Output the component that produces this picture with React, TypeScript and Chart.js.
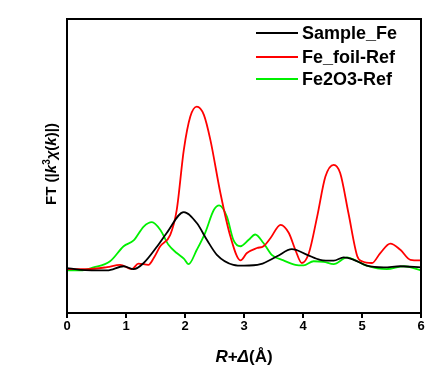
import React, { useEffect, useRef } from "react";
import { Chart, registerables } from "chart.js";

Chart.register(...registerables);

const sampleX = [0, 0.23, 0.68, 0.96, 1.13, 1.3, 1.53, 1.69, 1.98, 2.2, 2.37, 2.54, 2.82, 3.0, 3.28, 3.56, 3.81, 4.07, 4.29, 4.52, 4.69, 4.86, 5.08, 5.37, 5.65, 6];
const sampleY = [1.53, 1.47, 1.45, 1.59, 1.49, 1.7, 2.27, 2.72, 3.43, 3.06, 2.49, 1.98, 1.64, 1.61, 1.66, 1.93, 2.17, 1.98, 1.81, 1.78, 1.89, 1.81, 1.61, 1.55, 1.59, 1.55];

const foilX = [0, 0.34, 0.68, 0.9, 1.1, 1.21, 1.38, 1.47, 1.58, 1.75, 1.86, 1.98, 2.09, 2.2, 2.32, 2.43, 2.6, 2.77, 2.94, 3.05, 3.22, 3.33, 3.45, 3.62, 3.76, 3.87, 3.98, 4.1, 4.24, 4.38, 4.52, 4.63, 4.77, 4.92, 5.0, 5.17, 5.31, 5.48, 5.65, 5.82, 6];
const foilY = [1.49, 1.49, 1.56, 1.64, 1.49, 1.68, 1.64, 1.87, 2.27, 2.66, 3.51, 5.55, 6.68, 7.02, 6.74, 5.89, 4.08, 2.6, 1.79, 2.04, 2.21, 2.27, 2.55, 3.0, 2.72, 2.15, 1.7, 2.04, 3.28, 4.64, 5.04, 4.76, 3.4, 1.93, 1.76, 1.7, 2.04, 2.36, 2.15, 1.81, 1.79];

const oxideX = [0, 0.23, 0.45, 0.73, 0.96, 1.13, 1.3, 1.44, 1.58, 1.72, 1.86, 1.98, 2.06, 2.2, 2.34, 2.49, 2.58, 2.71, 2.82, 2.94, 3.08, 3.19, 3.33, 3.47, 3.67, 3.87, 4.01, 4.18, 4.35, 4.52, 4.75, 4.92, 5.08, 5.42, 5.71, 6];
const oxideY = [1.45, 1.45, 1.55, 1.76, 2.27, 2.47, 2.94, 3.09, 2.83, 2.32, 2.04, 1.85, 1.66, 2.15, 2.72, 3.51, 3.66, 3.28, 2.49, 2.27, 2.49, 2.67, 2.38, 1.98, 1.79, 1.64, 1.62, 1.76, 1.74, 1.66, 1.89, 1.76, 1.61, 1.49, 1.59, 1.45];

const seriesLabels = ["Sample_Fe", "Fe_foil-Ref", "Fe2O3-Ref"];
const seriesColors = ["#000000", "#ff0000", "#00f000"];
const xTickValues = [0, 1, 2, 3, 4, 5, 6];

const toPoints = (xs: number[], ys: number[]) => xs.map((x, i) => ({ x, y: ys[i] }));

const FONT = "'Liberation Sans', Arial, sans-serif";

const decorPlugin = {
  id: "decor",
  afterDraw(chart: any) {
    const ctx = chart.ctx;
    const a = chart.chartArea;
    ctx.save();
    ctx.strokeStyle = "#000";
    ctx.lineWidth = 2;
    ctx.strokeRect(a.left, a.top, a.right - a.left, a.bottom - a.top);

    const ds = chart.data.datasets;
    ctx.font = `bold 18px ${FONT}`;
    ctx.textBaseline = "middle";
    ctx.textAlign = "left";
    const rows = [33, 57, 79];
    ds.forEach((d: any, i: number) => {
      const y = rows[i];
      ctx.strokeStyle = d.borderColor;
      ctx.lineWidth = 2;
      ctx.beginPath();
      ctx.moveTo(256, y);
      ctx.lineTo(298, y);
      ctx.stroke();
      ctx.fillStyle = "#000";
      ctx.fillText(d.label, 302, y + 1);
    });

    const xParts: [string, string][] = [
      ["R", `bold italic 17px ${FONT}`],
      ["+", `bold 17px ${FONT}`],
      ["Δ", `bold italic 17px ${FONT}`],
      ["(Å)", `bold 17px ${FONT}`],
    ];
    let total = 0;
    xParts.forEach(([t, f]) => { ctx.font = f; total += ctx.measureText(t).width; });
    let cx = (a.left + a.right) / 2 - total / 2;
    ctx.fillStyle = "#000";
    ctx.textBaseline = "alphabetic";
    xParts.forEach(([t, f]) => { ctx.font = f; ctx.fillText(t, cx, 362); cx += ctx.measureText(t).width; });

    const yParts: [string, string, number][] = [
      ["FT (|", `bold 15px ${FONT}`, 0],
      ["k", `bold italic 15px ${FONT}`, 0],
      ["3", `bold 10px ${FONT}`, -6],
      ["χ", `bold italic 15px ${FONT}`, 0],
      ["(", `bold 15px ${FONT}`, 0],
      ["k", `bold italic 15px ${FONT}`, 0],
      [")|)", `bold 15px ${FONT}`, 0],
    ];
    let tot2 = 0;
    yParts.forEach(([t, f]) => { ctx.font = f; tot2 += ctx.measureText(t).width; });
    ctx.translate(56, (a.top + a.bottom) / 2 - 2);
    ctx.rotate(-Math.PI / 2);
    let px = -tot2 / 2;
    yParts.forEach(([t, f, dy]) => { ctx.font = f; ctx.fillText(t, px, dy); px += ctx.measureText(t).width; });
    ctx.restore();
  },
};

export default function App() {
  const ref = useRef<HTMLCanvasElement>(null);
  useEffect(() => {
    document.body.style.margin = "0";
    const data = [toPoints(sampleX, sampleY), toPoints(foilX, foilY), toPoints(oxideX, oxideY)];
    const chart = new Chart(ref.current!, {
      type: "line",
      data: {
        datasets: data.map((d, i) => ({
          label: seriesLabels[i],
          data: d,
          borderColor: seriesColors[i],
          backgroundColor: seriesColors[i],
          borderWidth: 1.8,
          pointRadius: 0,
          tension: 0.4,
          cubicInterpolationMode: "monotone" as const,
          fill: false,
        })),
      },
      options: {
        responsive: false,
        animation: false,
        layout: { padding: { left: 0, right: 24, top: 19, bottom: 0 } },
        plugins: { legend: { display: false }, tooltip: { enabled: false } },
        scales: {
          x: {
            type: "linear",
            min: 0,
            max: 6,
            afterFit: (s: any) => { s.height = 59; },
            afterBuildTicks: (s: any) => { s.ticks = xTickValues.map((v) => ({ value: v })); },
            grid: { display: true, drawOnChartArea: false, drawTicks: true, tickLength: 5, color: "#000", lineWidth: 2 },
            border: { display: true, color: "#000", width: 2 },
            ticks: { color: "#000", font: { family: FONT, size: 13, weight: "bold" }, padding: 1 },
          },
          y: {
            min: 0,
            max: 10,
            afterFit: (s: any) => { s.width = 67; },
            grid: { display: false },
            border: { display: true, color: "#000", width: 2 },
            ticks: { display: false },
          },
        },
      },
      plugins: [decorPlugin],
    });
    return () => chart.destroy();
  }, []);
  return <canvas ref={ref} width={445} height={372} style={{ display: "block" }} />;
}
